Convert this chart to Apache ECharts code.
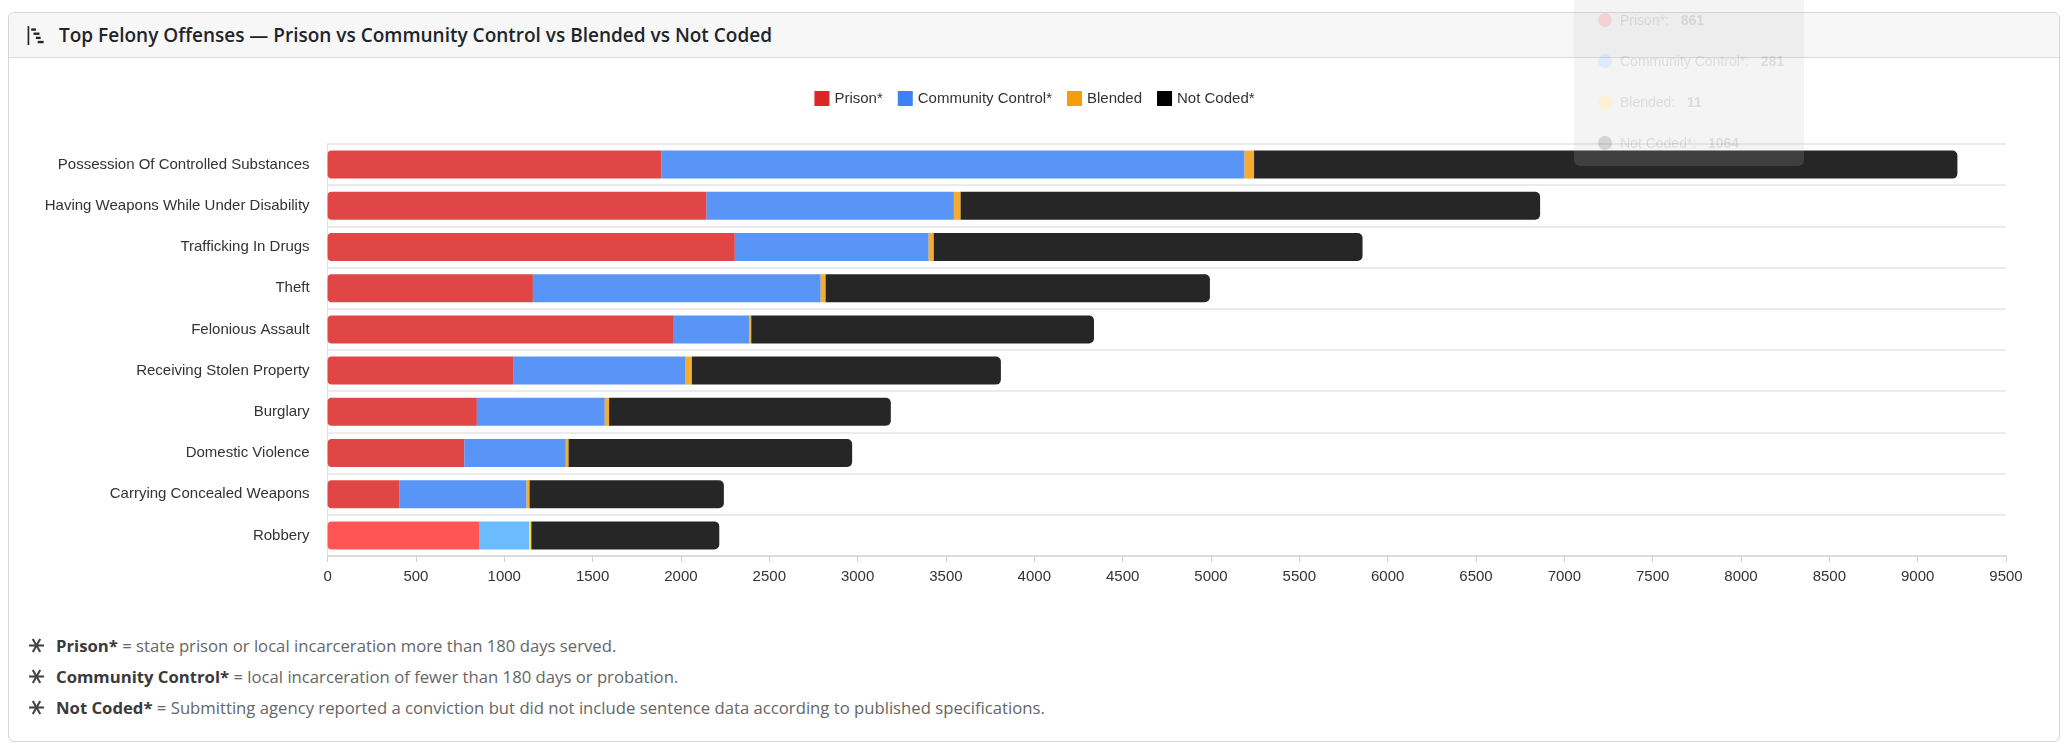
<!DOCTYPE html>
<html>
<head>
<meta charset="utf-8">
<script src="https://cdn.jsdelivr.net/npm/echarts@6/dist/echarts.min.js"></script>
<style>
  html, body { margin: 0; padding: 0; background: #fff; }
  body { width: 2069px; height: 749px; position: relative; overflow: hidden; font-family: "Open Sans", "Noto Sans", sans-serif; }
  .card { position: absolute; left: 8px; top: 12px; width: 2052px; height: 730px; border: 1px solid #d6d6d6; border-radius: 6px; box-sizing: border-box; }
  .card-header { height: 45px; background: #f7f7f7; border-bottom: 1px solid #dcdcdc; border-radius: 6px 6px 0 0; box-sizing: border-box; display: flex; align-items: center; padding-left: 18px; }
  .card-header svg { margin-right: 13px; }
  .card-header h5 { margin: 0; font-size: 19px; font-weight: 600; color: #212529; }
  .notes { position: absolute; left: 28px; top: 630px; font-size: 16.7px; color: #666; }
  .notes div { height: 31px; display: flex; align-items: center; }
  .notes b { color: #3a3a3a; font-weight: 700; }
  .notes svg { margin-right: 11px; }
  #chart { position: absolute; left: 0; top: 0; width: 2069px; height: 749px; }
</style>
</head>
<body>
<div class="card">
  <div class="card-header">
    <svg width="19" height="19" viewBox="0 0 16 16" fill="#212529">
      <rect x="0.5" y="0" width="1.4" height="16"/>
      <rect x="3.5" y="2" width="4" height="2"/>
      <rect x="5.5" y="5.5" width="5" height="2"/>
      <rect x="7.5" y="9" width="4" height="2"/>
      <rect x="9" y="12.5" width="5" height="2"/>
    </svg>
    <h5>Top Felony Offenses — Prison vs Community Control vs Blended vs Not Coded</h5>
  </div>
</div>
<div class="notes">
  <div><svg width="17" height="17" viewBox="-8 -8 16 16" stroke="#444" stroke-width="2"><line x1="-7" y1="0" x2="7" y2="0"/><line x1="-3.5" y1="-6.1" x2="3.5" y2="6.1"/><line x1="3.5" y1="-6.1" x2="-3.5" y2="6.1"/></svg><span><b>Prison*</b> = state prison or local incarceration more than 180 days served.</span></div>
  <div><svg width="17" height="17" viewBox="-8 -8 16 16" stroke="#444" stroke-width="2"><line x1="-7" y1="0" x2="7" y2="0"/><line x1="-3.5" y1="-6.1" x2="3.5" y2="6.1"/><line x1="3.5" y1="-6.1" x2="-3.5" y2="6.1"/></svg><span><b>Community Control*</b> = local incarceration of fewer than 180 days or probation.</span></div>
  <div><svg width="17" height="17" viewBox="-8 -8 16 16" stroke="#444" stroke-width="2"><line x1="-7" y1="0" x2="7" y2="0"/><line x1="-3.5" y1="-6.1" x2="3.5" y2="6.1"/><line x1="3.5" y1="-6.1" x2="-3.5" y2="6.1"/></svg><span><b>Not Coded*</b> = Submitting agency reported a conviction but did not include sentence data according to published specifications.</span></div>
</div>
<div id="chart"></div>
<script>
// Offense categories, top to bottom
const categories = [
    'Possession Of Controlled Substances',
    'Having Weapons While Under Disability',
    'Trafficking In Drugs',
    'Theft',
    'Felonious Assault',
    'Receiving Stolen Property',
    'Burglary',
    'Domestic Violence',
    'Carrying Concealed Weapons',
    'Robbery'
];

// Sentence counts per offense
const prison = [1890, 2145, 2305, 1162, 1955, 1050, 845, 774, 405, 861];
const community = [3300, 1400, 1097, 1629, 431, 976, 724, 574, 721, 281];
const blended = [54, 38, 29, 28, 12, 36, 24, 16, 17, 11];
const notCoded = [3981, 3280, 2427, 2175, 1940, 1749, 1595, 1605, 1100, 1064];

const seriesNames = ['Prison*', 'Community Control*', 'Blended', 'Not Coded*'];
const colors = ['#dc2626', '#3b82f6', '#f59e0b', '#000000'];
const hoverColors = ['#ff3737', '#51b0ff', '#ffd70f', '#000000'];

// Row that is hovered in the picture
const hoverIndex = 9;

const chart = echarts.init(document.getElementById('chart'));

const values = [prison, community, blended, notCoded];
const radius = [[4, 0, 0, 4], 0, 0, [0, 5, 5, 0]];

const series = values.map((data, i) => ({
    name: seriesNames[i],
    type: 'bar',
    stack: 'total',
    data: data,
    barWidth: 28,
    itemStyle: {
        color: colors[i],
        opacity: 0.85,
        borderRadius: radius[i]
    },
    emphasis: {
        itemStyle: { color: hoverColors[i], opacity: 0.85 }
    }
}));

const option = {
    animation: false,
    textStyle: { fontFamily: '"Liberation Sans", Arial, sans-serif' },
    legend: {
        top: 86,
        left: 'center',
        icon: 'rect',
        itemWidth: 15,
        itemHeight: 15,
        itemGap: 15,
        textStyle: { fontSize: 15, color: '#333' },
        itemStyle: { opacity: 1 },
        data: seriesNames
    },
    grid: {
        left: 327.6,
        right: 63,
        top: 144,
        bottom: 193
    },
    tooltip: {
        trigger: 'axis',
        axisPointer: { type: 'none' },
        alwaysShowContent: true,
        transitionDuration: 0,
        backgroundColor: 'rgb(190,190,190)',
        borderWidth: 0,
        padding: [10, 20, 2, 24],
        extraCssText: 'opacity:0.17; box-shadow:none; border-radius:6px;',
        position: () => [1574, -10],
        formatter: params => params.map(p =>
            '<div style="line-height:41px;font-size:14px;color:#333;font-family:Liberation Sans,Arial,sans-serif">' +
            '<span style="display:inline-block;width:14px;height:14px;border-radius:7px;background:' + colors[p.seriesIndex] + ';vertical-align:-2px;margin-right:8px"></span>' +
            p.seriesName + ':&nbsp;&nbsp;&nbsp;<b>' + p.value + '</b></div>'
        ).join('')
    },
    xAxis: {
        type: 'value',
        min: 0,
        max: 9500,
        interval: 500,
        axisLine: { show: true, lineStyle: { color: '#dcdcdc', width: 2 } },
        axisTick: { show: true, length: 6, lineStyle: { color: '#d0d0d0' } },
        axisLabel: { fontSize: 15, color: '#333', margin: 13, formatter: v => String(v) },
        splitLine: { show: false }
    },
    yAxis: {
        type: 'category',
        inverse: true,
        data: categories,
        axisLine: { show: true, lineStyle: { color: '#e2e2e2' } },
        axisTick: { show: false },
        axisLabel: { fontSize: 15, color: '#333', margin: 18, padding: [0, 0, 6, 0] },
        splitLine: { show: true, lineStyle: { color: '#e4e4e4', width: 1.5 } }
    },
    series: series
};

chart.setOption(option);

chart.dispatchAction({ type: 'showTip', seriesIndex: 0, dataIndex: hoverIndex });
chart.dispatchAction({ type: 'highlight', seriesIndex: [0, 1, 2, 3], dataIndex: hoverIndex });
</script>
</body>
</html>
